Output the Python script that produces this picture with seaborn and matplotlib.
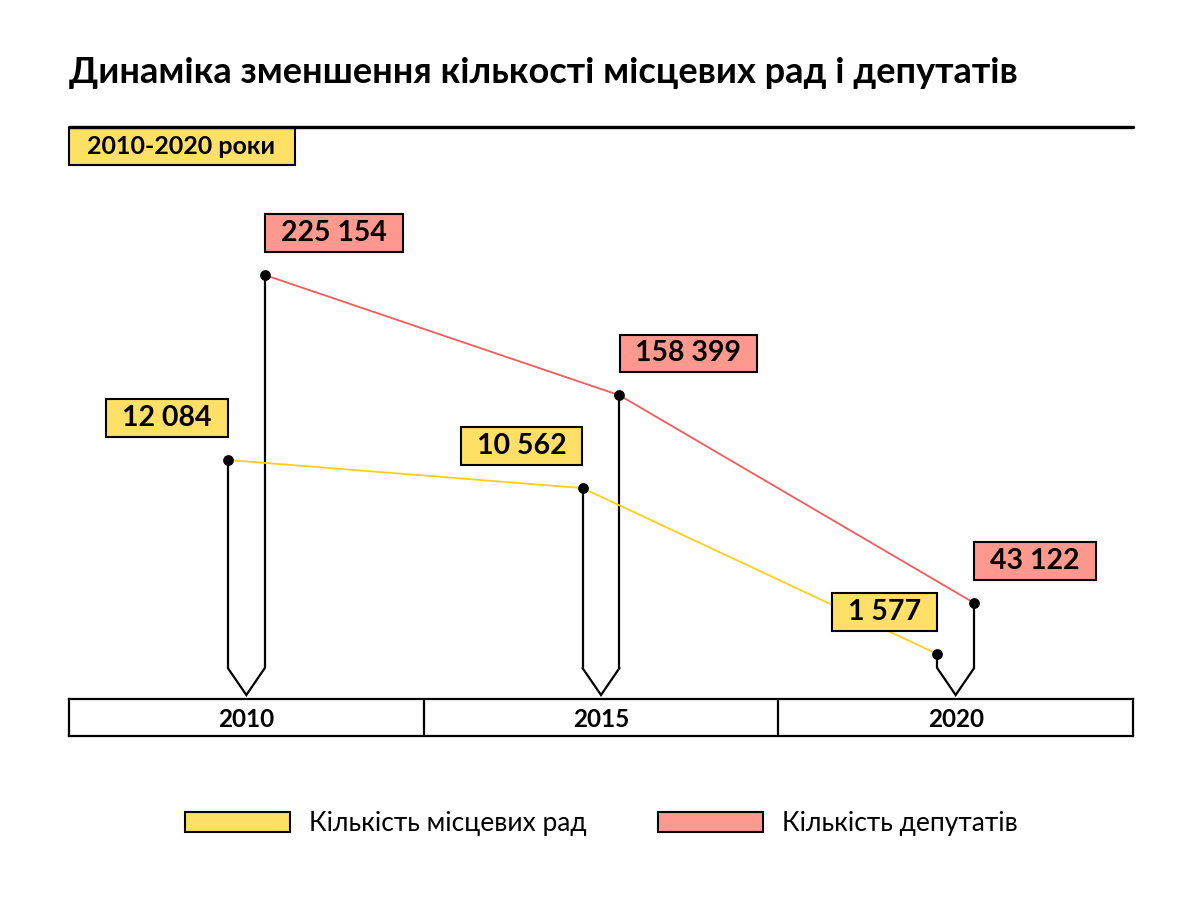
import matplotlib
matplotlib.use("Agg")
import matplotlib.pyplot as plt
import numpy as np
import pandas as pd
import seaborn as sns
from matplotlib.lines import Line2D
from matplotlib.patches import Patch, Rectangle
from matplotlib.path import Path

# data
YEARS = ["2010", "2015", "2020"]
COUNCILS = [12084, 10562, 1577]
DEPUTIES = [225154, 158399, 43122]
COUNCIL_LABELS = ["12 084", "10 562", "1 577"]
DEPUTY_LABELS = ["225 154", "158 399", "43 122"]
TITLE = "Динаміка зменшення кількості місцевих рад і депутатів"
PERIOD = "2010-2020 роки"
LEGEND_LABELS = ["Кількість місцевих рад", "Кількість депутатів"]

YELLOW_FILL = "#FFE066"
YELLOW_LINE = "#FFCF1A"
RED_FILL = "#FF9990"
RED_LINE = "#F45B5B"

sns.set_theme(style="white")
plt.rcParams["font.family"] = ["Lato", "DejaVu Sans"]
plt.rcParams["text.color"] = "black"

W, H = 1200, 908
fig = plt.figure(figsize=(12, 9.08), dpi=100)
fig.patch.set_facecolor("white")


def fx(px):
    return px / W


def fy(py):
    return 1 - py / H


def tag_style(padx, pady):
    # rectangular label box with separate horizontal / vertical padding
    def style(x0, y0, w, h, mutation_size):
        px, py = padx * mutation_size, pady * mutation_size
        verts = [(x0 - px, y0 - py), (x0 + w + px, y0 - py), (x0 + w + px, y0 + h + py),
                 (x0 - px, y0 + h + py), (x0 - px, y0 - py)]
        return Path(verts, closed=True)
    return style


# plot area in pixels
L, R, T, B = 69, 1133, 190, 699
ax = fig.add_axes([fx(L), fy(B), fx(R - L), (B - T) / H])
ax2 = ax.twinx()

# deputies scale: zero at px 680.7, 555 per px; councils: zero at px 683.1, 54.16 per px
ax.set_ylim(-(B - 680.7) * 555, (680.7 - T) * 555)
ax2.set_ylim(-(B - 683.1) * 54.16, (683.1 - T) * 54.16)
for a in (ax, ax2):
    a.set_xlim(-0.5, 2.5)

xpos = np.arange(len(YEARS))
d = 18.5 / ((R - L) / 3)
df = pd.DataFrame({"year": YEARS, "x": xpos, "councils": COUNCILS, "deputies": DEPUTIES})

sns.lineplot(x=df["x"] + d, y=df["deputies"], ax=ax, color=RED_LINE, lw=1.3, zorder=2)
sns.lineplot(x=df["x"] - d, y=df["councils"], ax=ax2, color=YELLOW_LINE, lw=1.3, zorder=2)

# pins: verticals down to px 668, V-tip at px 695
f_knee = (B - 668) / (B - T)
f_tip = (B - 695) / (B - T)


def at_frac(a, f):
    lo, hi = a.get_ylim()
    return lo + f * (hi - lo)


ax.vlines(df["x"] + d, at_frac(ax, f_knee), df["deputies"], color="black", lw=1.6, zorder=3)
ax2.vlines(df["x"] - d, at_frac(ax2, f_knee), df["councils"], color="black", lw=1.6, zorder=3)
for x in xpos:
    ax.plot([x - d, x, x + d], [f_knee, f_tip, f_knee], transform=ax.get_xaxis_transform(),
            color="black", lw=1.6, clip_on=False, solid_joinstyle="miter")

sns.scatterplot(x=df["x"] + d, y=df["deputies"], ax=ax, color="black", s=60, linewidth=0, zorder=4)
sns.scatterplot(x=df["x"] - d, y=df["councils"], ax=ax2, color="black", s=60, linewidth=0, zorder=4)

label_kw = dict(textcoords="offset pixels", va="bottom", fontsize=20.5, fontweight="bold",
                color="black", zorder=6)
for x, v, lbl in zip(xpos, DEPUTIES, DEPUTY_LABELS):
    ax.annotate(lbl, xy=(x + d, v), xytext=(16, 29), ha="left",
                bbox=dict(boxstyle=tag_style(0.56, 0.2), fc=RED_FILL, ec="black", lw=1.5),
                **label_kw)
for x, v, lbl in zip(xpos, COUNCILS, COUNCIL_LABELS):
    ax2.annotate(lbl, xy=(x - d, v), xytext=(-16, 29), ha="right",
                 bbox=dict(boxstyle=tag_style(0.56, 0.2), fc=YELLOW_FILL, ec="black", lw=1.5),
                 **label_kw)

for a in (ax, ax2):
    a.set_axis_off()

# year band
band = fig.add_axes([fx(L), fy(736), fx(R - L), 37 / H])
band.set_xlim(-0.5, 2.5)
band.set_ylim(0, 1)
band.set_xticks([])
band.set_yticks([])
for s in band.spines.values():
    s.set_visible(True)
    s.set_color("black")
    s.set_linewidth(1.6)
for b in (0.5, 1.5):
    band.axvline(b, color="black", lw=1.6)
for x, yr in zip(xpos, YEARS):
    band.text(x, 0.45, yr, ha="center", va="center", fontsize=17.5, fontweight="bold")

# title, rule and period tag
fig.text(fx(69), fy(83), TITLE, ha="left", va="baseline", fontsize=26, fontweight="bold")
fig.add_artist(Line2D([fx(69), fx(1133)], [fy(127), fy(127)], color="black", lw=2.4))
fig.add_artist(Rectangle((fx(69), fy(165)), fx(226), 37 / H, transform=fig.transFigure,
                         fc=YELLOW_FILL, ec="black", lw=1.5))
fig.text(fx(181), fy(147), PERIOD, ha="center", va="center", fontsize=18, fontweight="bold")

# legend
handles = [Patch(facecolor=YELLOW_FILL, edgecolor="black", lw=1.5, label=LEGEND_LABELS[0]),
           Patch(facecolor=RED_FILL, edgecolor="black", lw=1.5, label=LEGEND_LABELS[1])]
fig.legend(handles=handles, loc="center", bbox_to_anchor=(fx(601), fy(824)), ncol=2,
           frameon=False, prop=dict(family=["Lato", "DejaVu Sans"], size=19),
           labelcolor="black",
           handlelength=4.0, handleheight=0.8, handletextpad=0.7, columnspacing=2.7)

fig.savefig("out.png", dpi=100, facecolor="white")
